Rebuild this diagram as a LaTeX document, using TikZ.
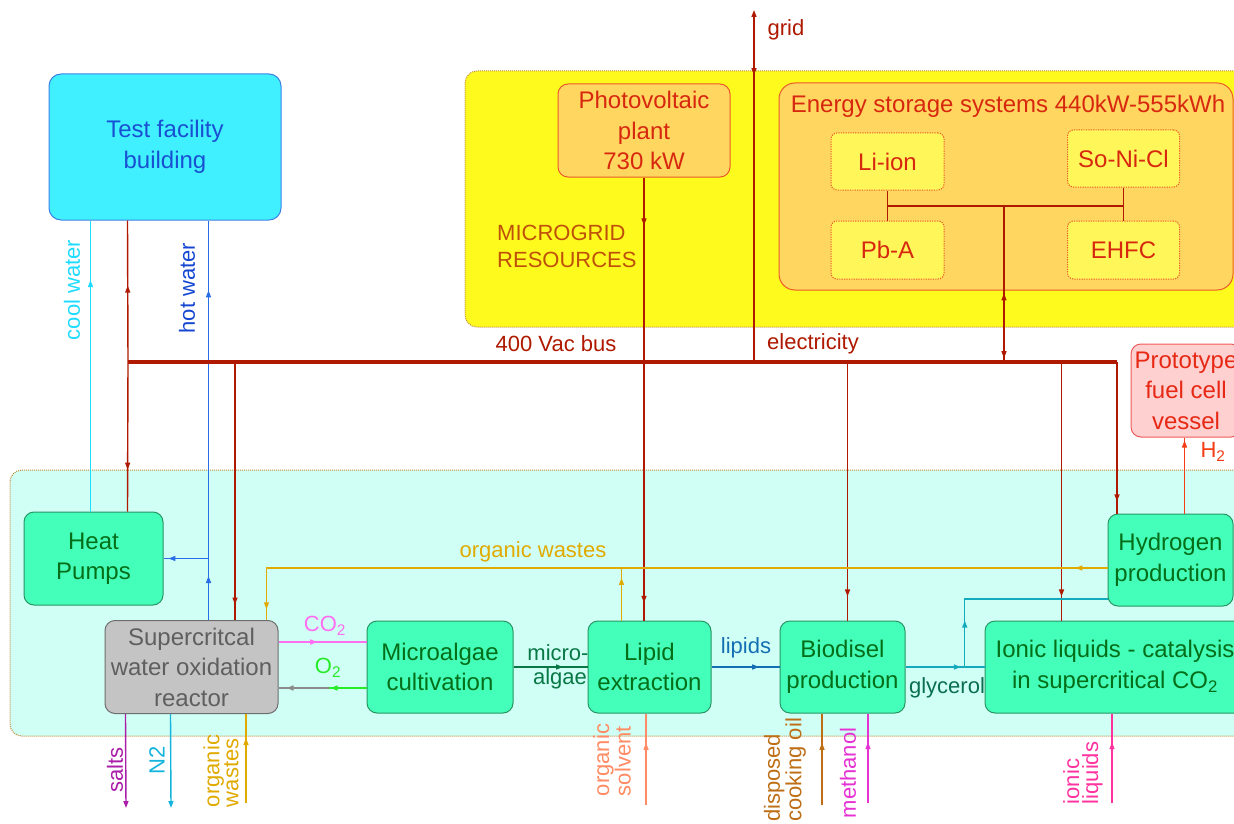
\documentclass[tikz,border=0pt]{standalone}
\usepackage{fontspec}
\setmainfont{Liberation Sans}
\usetikzlibrary{arrows.meta,decorations.markings,calc}
\newcommand\fbig{\fontsize{24}{30.5}\selectfont}
\newcommand\fsm{\fontsize{22}{27}\selectfont}
\newcommand\fsmt{\fontsize{22}{19}\selectfont}
\definecolor{tfFill}{RGB}{64,240,255}
\definecolor{tfDraw}{RGB}{60,130,230}
\definecolor{tfText}{RGB}{25,80,210}
\definecolor{yel}{RGB}{255,250,30}
\definecolor{regDraw}{RGB}{190,140,60}
\definecolor{orFill}{RGB}{255,214,96}
\definecolor{orDraw}{RGB}{235,90,40}
\definecolor{rtext}{RGB}{215,40,15}
\definecolor{liFill}{RGB}{255,246,90}
\definecolor{busRed}{RGB}{175,25,0}
\definecolor{mgText}{RGB}{190,80,10}
\definecolor{cyanReg}{RGB}{208,255,245}
\definecolor{gFill}{RGB}{68,255,185}
\definecolor{gDraw}{RGB}{40,150,100}
\definecolor{gText}{RGB}{5,110,25}
\definecolor{grFill}{RGB}{196,196,196}
\definecolor{grDraw}{RGB}{110,110,110}
\definecolor{grText}{RGB}{95,95,95}
\definecolor{pFill}{RGB}{255,208,208}
\definecolor{pDraw}{RGB}{240,90,90}
\definecolor{pText}{RGB}{230,40,20}
\definecolor{hTwoC}{RGB}{245,60,20}
\definecolor{coolC}{RGB}{30,220,255}
\definecolor{hotC}{RGB}{40,110,230}
\definecolor{hotT}{RGB}{20,70,210}
\definecolor{coC}{RGB}{255,110,240}
\definecolor{oxC}{RGB}{40,235,40}
\definecolor{maC}{RGB}{10,120,70}
\definecolor{lipC}{RGB}{20,110,180}
\definecolor{glC}{RGB}{20,170,190}
\definecolor{glT}{RGB}{10,110,80}
\definecolor{owC}{RGB}{225,170,0}
\definecolor{saltC}{RGB}{170,30,170}
\definecolor{nC}{RGB}{20,180,220}
\definecolor{solvC}{RGB}{255,140,100}
\definecolor{oilC}{RGB}{190,110,20}
\definecolor{methC}{RGB}{230,50,210}
\definecolor{ilC}{RGB}{255,50,160}
\begin{document}
\begin{tikzpicture}[x=1pt,y=-1pt,
  conn/.style={line width=1.4pt},
  marr/.style={postaction={decorate,decoration={markings,mark=at position #1 with {\arrow{Triangle[length=7pt,width=5pt]}}}}},
  rarr/.style={postaction={decorate,decoration={markings,mark=at position #1 with {\arrowreversed{Triangle[length=7pt,width=5pt]}}}}},
  endarr/.style={-{Triangle[length=7pt,width=5pt]}},
  bx/.style={draw, rounded corners=10pt, line width=1pt, align=center, font=\fbig, inner sep=0pt},
  gbox/.style={bx, fill=gFill, draw=gDraw, text=gText},
  ebox/.style={bx, fill=liFill, draw=orDraw, dash pattern=on 1.2pt off 1.2pt, rounded corners=6pt, text=rtext},
  region/.style={draw=regDraw, line width=1pt, dash pattern=on 1pt off 1pt, rounded corners=12pt, inner sep=0pt},
  lbl/.style={font=\fsm, inner sep=0pt},
  vlbl/.style={font=\fsmt, rotate=90, align=left, inner sep=0pt},
]
\useasboundingbox (0,0) rectangle (1234,824);
\fill[white] (0,0) rectangle (1234,824);

% regions
\node[region, fill=yel, minimum width=790pt, minimum height=256pt] (mg) at (860,199) {};
\node[region, fill=cyanReg, minimum width=1245pt, minimum height=266pt] (lab) at (632.5,603) {};

% boxes
\node[bx, fill=tfFill, draw=tfDraw, text=tfText, rounded corners=12pt, minimum width=232pt, minimum height=146pt] (tfb) at (165,147) {Test facility\\building};
\node[bx, fill=orFill, draw=orDraw, text=rtext, minimum width=172pt, minimum height=93pt] (pv) at (644,130.5) {Photovoltaic\\plant\\730 kW};
\node[bx, fill=orFill, draw=orDraw, rounded corners=16pt, minimum width=454pt, minimum height=207pt] (ess) at (1006,186.5) {};
\node[lbl, font=\fbig, text=rtext] (esst) at (1008,106) {Energy storage systems 440kW-555kWh};
\node[ebox, minimum width=113pt, minimum height=57pt] (li) at (887.5,161.5) {Li-ion};
\node[ebox, minimum width=112pt, minimum height=57pt] (sn) at (1123.5,158.5) {So-Ni-Cl};
\node[ebox, minimum width=113pt, minimum height=58pt] (pb) at (887.5,250) {Pb-A};
\node[ebox, minimum width=112pt, minimum height=58pt] (eh) at (1123.5,250) {EHFC};
\node[bx, fill=pFill, draw=pDraw, text=pText, minimum width=110pt, minimum height=93pt] (pfc) at (1186,390.5) {Prototype\\fuel cell\\vessel};

\node[gbox, minimum width=139pt, minimum height=93pt] (hp) at (93.5,558.5) {Heat\\Pumps};
\node[bx, fill=grFill, draw=grDraw, text=grText, minimum width=173pt, minimum height=93pt] (scwo) at (191.5,667) {Supercritcal\\water oxidation\\reactor};
\node[gbox, minimum width=146pt, minimum height=92pt] (mc) at (440,667) {Microalgae\\cultivation};
\node[gbox, minimum width=123pt, minimum height=92pt] (lip) at (649.5,667) {Lipid\\extraction};
\node[gbox, minimum width=125pt, minimum height=92pt] (bio) at (842.5,667) {Biodisel\\production};
\node[gbox, minimum width=260pt, minimum height=92pt] (ion) at (1115,667) {Ionic liquids - catalysis\\in supercritical CO\textsubscript{2}};
\node[gbox, minimum width=125pt, minimum height=92pt] (hyd) at (1170.5,560) {Hydrogen\\production};

% coordinates
\coordinate (busL) at (128,362);
\coordinate (busR) at (1117,362);
\coordinate (cw) at ([xshift=42pt]tfb.south west);
\coordinate (rw) at ([xshift=79pt]tfb.south west);
\coordinate (hw) at ([xshift=160pt]tfb.south west);
\coordinate (rs) at ([xshift=107pt]busL);
\coordinate (gtop) at (754,10);
\coordinate (ebm) at (1004,206);
\coordinate (bx) at ([xshift=68pt]bio.north west);
\coordinate (ix) at ([xshift=77pt]ion.north west);
\coordinate (hx) at ([xshift=77pt]hyd.north west);
\coordinate (owr) at ([yshift=-8pt]hyd.west);
\coordinate (owl) at ([xshift=162pt]scwo.north west);
\coordinate (lo) at ([xshift=34pt]lip.north west);
\coordinate (oxs) at ([yshift=-21pt]mc.west);
\coordinate (oxe) at ([yshift=-21pt]scwo.east);
\coordinate (oxm) at ($(oxe)!0.57!(oxs)$);
\coordinate (gle) at (bio.east -| ion.west);
\coordinate (gb) at ($(bio.east)!0.75!(gle)$);
\coordinate (hyg) at ([yshift=-39pt]hyd.west);
\coordinate (sx) at ([xshift=21pt]scwo.south west);
\coordinate (sxe) at (126,808);
\coordinate (nx) at ([xshift=66pt]scwo.south west);
\coordinate (nxe) at (171,808);
\coordinate (owb) at (246,803);
\coordinate (svb) at (646,805);
\coordinate (oib) at (822,805);
\coordinate (meb) at (868,803);
\coordinate (ilb) at (1112,803);

% thermal connectors
\draw[conn, coolC, marr=0.795] (cw |- hp.north) -- (cw);
\draw[conn, busRed, marr=0.54] (busL) -- (rw);
\draw[conn, busRed, marr=0.72] (busL) -- (rw |- hp.north);
\draw[conn, hotC, marr=0.11, marr=0.825] (hw |- scwo.north) -- (hw);
\draw[conn, hotC, marr=0.89] (hw |- hp.east) -- (hp.east);
\draw[conn, busRed, marr=0.94] (rs) -- (rs |- scwo.north);

% electrical
\draw[busRed, line width=3.5pt] (busL) -- (busR);
\draw[conn, busRed, marr=0.108, marr=0.96] (pv.south) -- (pv.south |- lip.north);
\draw[conn, busRed, {Triangle[length=7pt,width=5pt]}-, marr=0.185] (gtop) -- (gtop |- busL);
\draw[conn, busRed] (li.south) -- (pb.north);
\draw[conn, busRed] (sn.south) -- (eh.north);
\draw[conn, busRed] (li.south |- ebm) -- (sn.south |- ebm);
\draw[conn, busRed, marr=0.975, rarr=0.56] (ebm) -- (ebm |- busL);
\draw[conn, busRed, marr=0.907] (bx |- busL) -- (bx);
\draw[conn, busRed, marr=0.907] (ix |- busL) -- (ix);
\draw[conn, busRed, marr=0.92] (busR) -- (busR |- hyd.north);
\draw[conn, hTwoC, marr=0.96] (hx) -- (hx |- pfc.south);

% process flows
\draw[conn, owC, marr=0.036, marr=0.988] (owr) -| (owl);
\draw[conn, owC, marr=0.81] (lo) -- (lo |- owr);
\draw[conn, coC, marr=0.44] ([yshift=25pt]scwo.east) -- ([yshift=25pt]mc.west);
\draw[conn, oxC, marr=0.95] (oxs) -- (oxm);
\draw[conn, grDraw!80, marr=0.84] (oxm) -- (oxe);
\draw[conn, maC, marr=0.67] (mc.east) -- (lip.west);
\draw[conn, lipC, marr=0.7] (lip.east) -- (bio.west);
\draw[conn, glC, marr=0.7] (bio.east) -- (gle);
\draw[conn, glC, marr=0.22] (gb) |- (hyg);

% external inputs/outputs
\draw[conn, saltC, endarr] (sx) -- (sxe);
\draw[conn, nC, endarr] (nx) -- (nxe);
\draw[conn, owC, marr=0.73] (owb) -- (owb |- scwo.south);
\draw[conn, solvC, marr=0.68] (svb) -- (svb |- lip.south);
\draw[conn, oilC, marr=0.68] (oib) -- (oib |- bio.south);
\draw[conn, methC, marr=0.68] (meb) -- (meb |- bio.south);
\draw[conn, ilC, marr=0.68] (ilb) -- (ilb |- ion.south);

% labels
\node[lbl, text=busRed] (lgrid) at (786,30) {grid};
\node[lbl, text=mgText, align=left, anchor=west] (lmg) at (497,246) {MICROGRID\\RESOURCES};
\node[lbl, text=busRed] (lbus) at (556,344) {400 Vac bus};
\node[lbl, text=busRed] (lel) at (813,344) {electricity};
\node[vlbl, text=coolC] (lcw) at (72,290) {cool water};
\node[vlbl, text=hotT] (lhw) at (187,288) {hot water};
\node[lbl, text=owC] (lowt) at (533,552) {organic wastes};
\node[lbl, text=coC] (lco) at (325,626) {CO\textsubscript{2}};
\node[lbl, text=oxC] (lox) at (328,668) {O\textsubscript{2}};
\node[lbl, text=maC] (lmi) at (558,653) {micro-};
\node[lbl, text=maC] (lal) at (560,679) {algae};
\node[lbl, text=lipC] (llp) at (746,648) {lipids};
\node[lbl, text=glT] (lgl) at (947,688) {glycerol};
\node[lbl, text=hTwoC] (lh2) at (1213,452) {H\textsubscript{2}};
\node[vlbl, text=saltC] (lsa) at (115,770) {salts};
\node[vlbl, text=nC] (ln2) at (157,760) {N2};
\node[vlbl, text=owC] (low) at (221,771) {organic\\wastes};
\node[vlbl, text=solvC] (lsv) at (612,760) {organic\\solvent};
\node[vlbl, text=oilC] (loi) at (785,770) {disposed\\cooking oil};
\node[vlbl, text=methC] (lme) at (848,773) {methanol};
\node[vlbl, text=ilC] (lil) at (1083,773) {ionic\\liquids};
\end{tikzpicture}
\end{document}
